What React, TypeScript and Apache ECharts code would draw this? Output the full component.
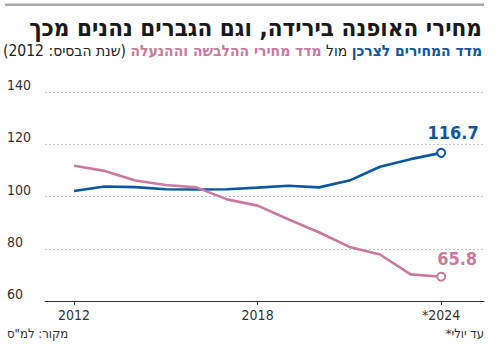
import React, { useEffect, useRef } from "react";
import * as echarts from "echarts";

const years = [2012, 2013, 2014, 2015, 2016, 2017, 2018, 2019, 2020, 2021, 2022, 2023, 2024];
const cpiValues = [102.1, 103.8, 103.6, 102.8, 102.7, 102.8, 103.4, 104.1, 103.5, 106.1, 111.4, 114.3, 116.7];
const clothingValues = [111.8, 109.8, 106.1, 104.4, 103.5, 98.9, 96.5, 91.3, 86.3, 80.7, 77.8, 70.2, 69.3];
const endLabels = ["116.7", "65.8"];
const xTickYears = [2012, 2018, 2024];
const yTicks = [60, 80, 100, 120, 140];

const BLUE = "#0c57a3";
const PINK = "#c97a9e";
const FONT = "'Liberation Sans Narrow', 'DejaVu Sans Condensed', 'Liberation Sans', sans-serif";

function buildSeries(name: string, values: number[], color: string, label: string, offset: number[]) {
  const data = values.map((v, i) => {
    const item: any = { value: [years[i], v] };
    if (i === values.length - 1) {
      item.symbol = "circle";
      item.symbolSize = 8;
      item.itemStyle = { color: "#fff", borderColor: color, borderWidth: 2 };
      item.label = {
        show: true,
        position: "top",
        distance: 6,
        offset,
        formatter: () => label,
        color,
        fontFamily: FONT,
        fontWeight: "bold",
        fontSize: 18,
      };
    }
    return item;
  });
  return {
    name,
    type: "line",
    data,
    symbol: "none",
    showSymbol: true,
    lineStyle: { color, width: 2.6 },
    itemStyle: { color },
    z: 3,
  };
}

export default function App() {
  const ref = useRef<HTMLDivElement>(null);
  useEffect(() => {
    if (!ref.current) return;
    const chart = echarts.init(ref.current, null, { renderer: "svg" });
    chart.setOption({
      animation: false,
      backgroundColor: "#fff",
      grid: { left: 45, right: 16, top: 92, bottom: 50 },
      xAxis: {
        type: "value",
        min: 2011.05,
        max: 2025.4,
        splitLine: { show: false },
        axisLine: { show: true, lineStyle: { color: "#333", width: 1 } },
        axisTick: {
          show: true,
          customValues: xTickYears,
          length: 4,
          lineStyle: { color: "#333" },
        },
        axisLabel: {
          customValues: xTickYears,
          formatter: (v: number) => (v === 2024 ? "*2024" : String(v)),
          color: "#333",
          fontFamily: FONT,
          fontSize: 14,
          margin: 7,
        },
      },
      yAxis: {
        type: "value",
        min: yTicks[0],
        max: yTicks[yTicks.length - 1],
        interval: 20,
        axisLine: { show: false },
        axisTick: { show: false },
        splitLine: { lineStyle: { color: "#c8c8c8", type: [2, 2], width: 1 } },
        axisLabel: {
          align: "left",
          verticalAlign: "bottom",
          margin: 38,
          color: "#333",
          fontFamily: FONT,
          fontSize: 14,
        },
      },
      series: [
        buildSeries("מדד המחירים לצרכן", cpiValues, BLUE, endLabels[0], [12, 0]),
        buildSeries("מדד מחירי ההלבשה וההנעלה", clothingValues, PINK, endLabels[1], [16, 2]),
      ],
      graphic: [
        { type: "rect", shape: { x: 5, y: 3.5, width: 479, height: 2.5 }, style: { fill: "#aaa" } },
        {
          type: "text",
          x: 482,
          y: 28,
          style: {
            text: "מחירי האופנה בירידה, וגם הגברים נהנים מכך",
            align: "right",
            verticalAlign: "middle",
            fill: "#1a1a1a",
            fontFamily: FONT,
            fontWeight: "bold",
            fontSize: 24,
          },
        },
        {
          type: "text",
          x: 482,
          y: 51,
          style: {
            text:
              "{n|(2012 :שנת הבסיס)}{n| }{p|מדד מחירי ההלבשה וההנעלה}{n| מול }{b|מדד המחירים לצרכן}",
            align: "right",
            verticalAlign: "middle",
            fontFamily: FONT,
            fontSize: 15.5,
            rich: {
              n: { fill: "#222", fontFamily: FONT, fontSize: 15.5 },
              p: { fill: PINK, fontFamily: FONT, fontSize: 15.5, fontWeight: "bold" },
              b: { fill: BLUE, fontFamily: FONT, fontSize: 15.5, fontWeight: "bold" },
            },
          },
        },
        {
          type: "text",
          x: 7,
          y: 333,
          style: {
            text: "מקור: למ\"ס",
            align: "left",
            verticalAlign: "middle",
            fill: "#333",
            fontFamily: FONT,
            fontSize: 13,
          },
        },
        {
          type: "text",
          x: 484,
          y: 333,
          style: {
            text: "*עד יולי",
            align: "right",
            verticalAlign: "middle",
            fill: "#333",
            fontFamily: FONT,
            fontSize: 13,
          },
        },
      ],
    });
    return () => chart.dispose();
  }, []);
  return (
    <div
      ref={ref}
      style={{ position: "fixed", left: 0, top: 0, width: 500, height: 351, background: "#fff" }}
    />
  );
}
